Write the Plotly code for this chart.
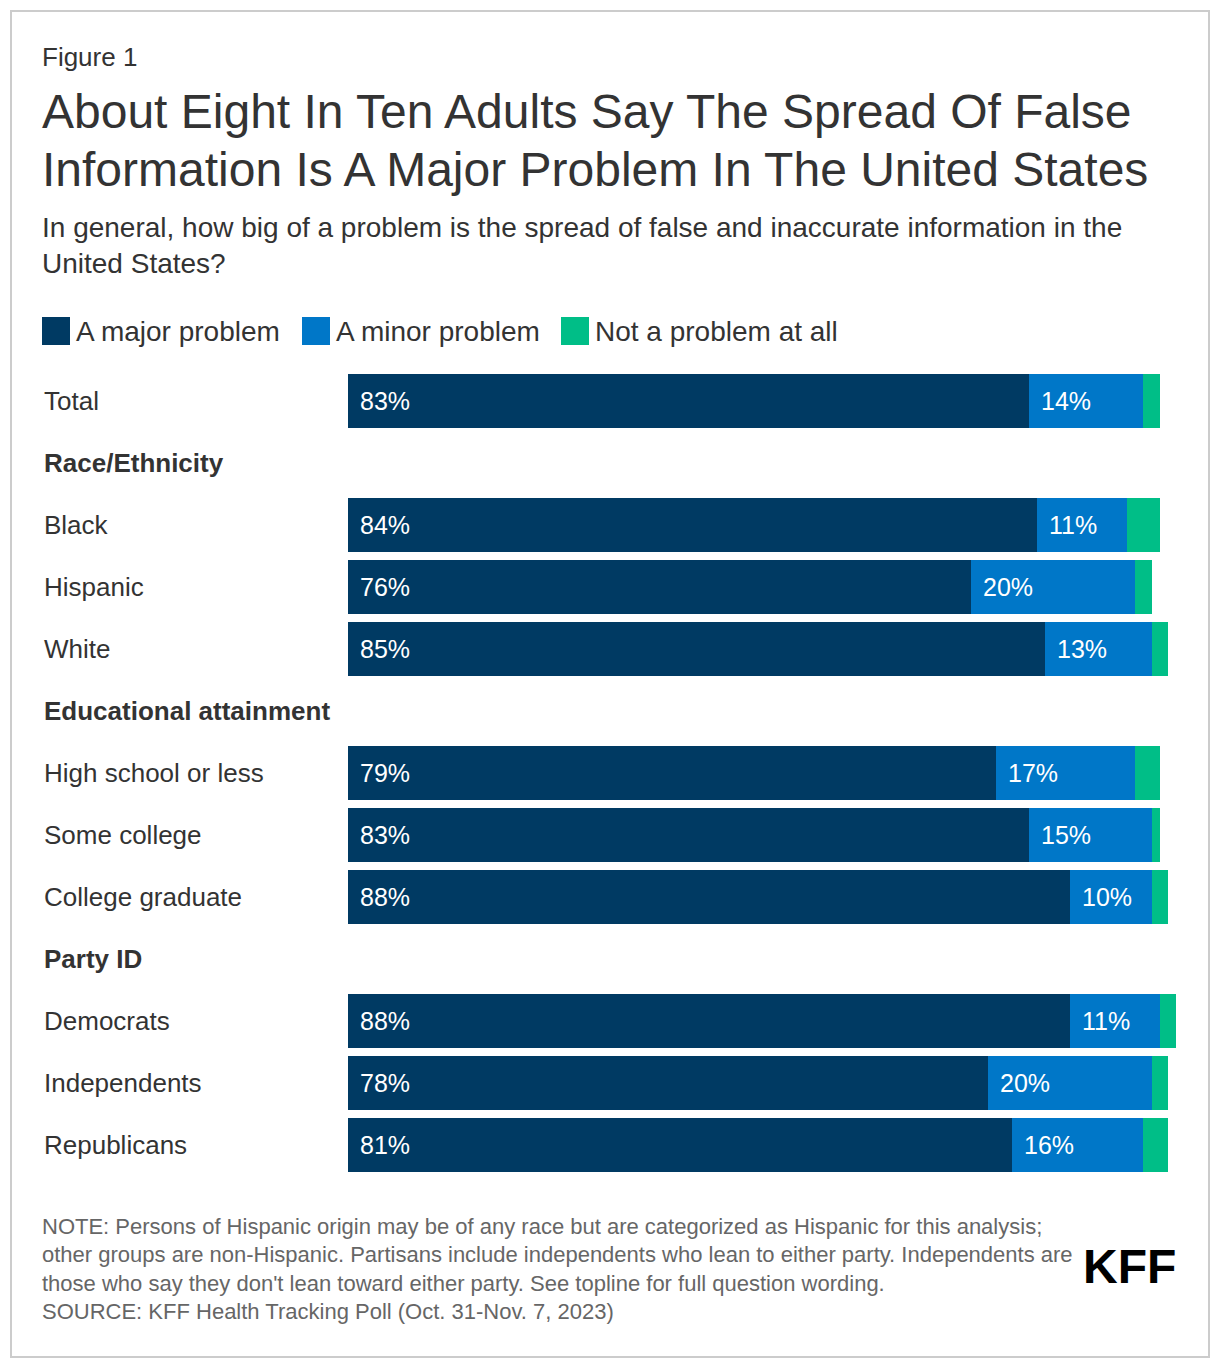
import plotly.graph_objects as go

W, H = 1220, 1370

categories = ["Total", "Race/Ethnicity", "Black", "Hispanic", "White",
              "Educational attainment", "High school or less", "Some college",
              "College graduate", "Party ID", "Democrats", "Independents", "Republicans"]
headers = ["Race/Ethnicity", "Educational attainment", "Party ID"]
major = [83, None, 84, 76, 85, None, 79, 83, 88, None, 88, 78, 81]
minor = [14, None, 11, 20, 13, None, 17, 15, 10, None, 11, 20, 16]
notprob = [2, None, 4, 2, 2, None, 3, 1, 2, None, 2, 2, 3]

series_names = ["A major problem", "A minor problem", "Not a problem at all"]
series_colors = ["#003A63", "#0077C8", "#00BE87"]

FONT = "Liberation Sans, Arial, Helvetica, sans-serif"
TXT = "#333333"

def px(x):
    return x / W

def py(y):
    return 1 - y / H

fig = go.Figure()
for name, vals, col in zip(series_names, [major, minor, notprob], series_colors):
    fig.add_trace(go.Bar(
        y=categories, x=vals, name=name, orientation="h",
        marker=dict(color=col, line=dict(width=0)), width=0.87,
        hoverinfo="x+name", showlegend=False,
    ))

ann = []
# bar value labels
for cat, a, b in zip(categories, major, minor):
    if a is None:
        continue
    ann.append(dict(x=0, y=cat, xref="x", yref="y", text=f"{a}%", showarrow=False,
                    xanchor="left", yanchor="middle", xshift=10,
                    font=dict(family=FONT, size=25, color="white")))
    ann.append(dict(x=a, y=cat, xref="x", yref="y", text=f"{b}%", showarrow=False,
                    xanchor="left", yanchor="middle", xshift=10,
                    font=dict(family=FONT, size=25, color="white")))

# category labels
for cat in categories:
    t = f"<b>{cat}</b>" if cat in headers else cat
    ann.append(dict(x=px(42), y=cat, xref="paper", yref="y", text=t, showarrow=False,
                    xanchor="left", yanchor="middle",
                    font=dict(family=FONT, size=26, color=TXT)))

def txt(x, y, s, size, color=TXT, anchor="left"):
    ann.append(dict(x=px(x), y=py(y), xref="paper", yref="paper", text=s, showarrow=False,
                    xanchor=anchor, yanchor="middle", font=dict(family=FONT, size=size, color=color)))

txt(40, 57, "Figure 1", 26)
txt(40, 112, "About Eight In Ten Adults Say The Spread Of False", 48)
txt(40, 170, "Information Is A Major Problem In The United States", 48)
txt(40, 227, "In general, how big of a problem is the spread of false and inaccurate information in the", 28)
txt(40, 263, "United States?", 28)

# legend
leg_x = [42, 302, 561]
shapes = []
for lx, name, col in zip(leg_x, series_names, series_colors):
    shapes.append(dict(type="rect", xref="paper", yref="paper", x0=px(lx), x1=px(lx + 28),
                       y0=py(345), y1=py(317), fillcolor=col, line=dict(width=0)))
    txt(lx + 32, 331, name, 28)

notes = [
    "NOTE: Persons of Hispanic origin may be of any race but are categorized as Hispanic for this analysis;",
    "other groups are non-Hispanic. Partisans include independents who lean to either party. Independents are",
    "those who say they don't lean toward either party. See topline for full question wording.",
    "SOURCE: KFF Health Tracking Poll (Oct. 31-Nov. 7, 2023)",
]
for i, n in enumerate(notes):
    txt(40, 1226 + i * 28.5, n, 22, color="#666666")

ann.append(dict(x=px(1178), y=py(1266), xref="paper", yref="paper", text="<b>KFF</b>",
                showarrow=False, xanchor="right", yanchor="middle",
                font=dict(family=FONT, size=48, color="#000000")))

# border
shapes.append(dict(type="rect", xref="paper", yref="paper", x0=px(11), x1=px(1209),
                   y0=py(1357), y1=py(11), line=dict(color="#cccccc", width=2),
                   fillcolor="rgba(0,0,0,0)"))

fig.update_layout(
    width=W, height=H, margin=dict(l=0, r=0, t=0, b=0),
    paper_bgcolor="white", plot_bgcolor="white",
    barmode="stack", bargap=0,
    xaxis=dict(range=[0, 101], domain=[px(348), px(1176.2)], visible=False, fixedrange=True),
    yaxis=dict(categoryorder="array", categoryarray=categories, autorange=False,
               range=[12.5, -0.5], domain=[py(1176), py(370)], visible=False, fixedrange=True),
    annotations=ann, shapes=shapes,
)

fig.write_html("out.html", config={"displayModeBar": False},
               post_script="document.body.style.margin='0';")
